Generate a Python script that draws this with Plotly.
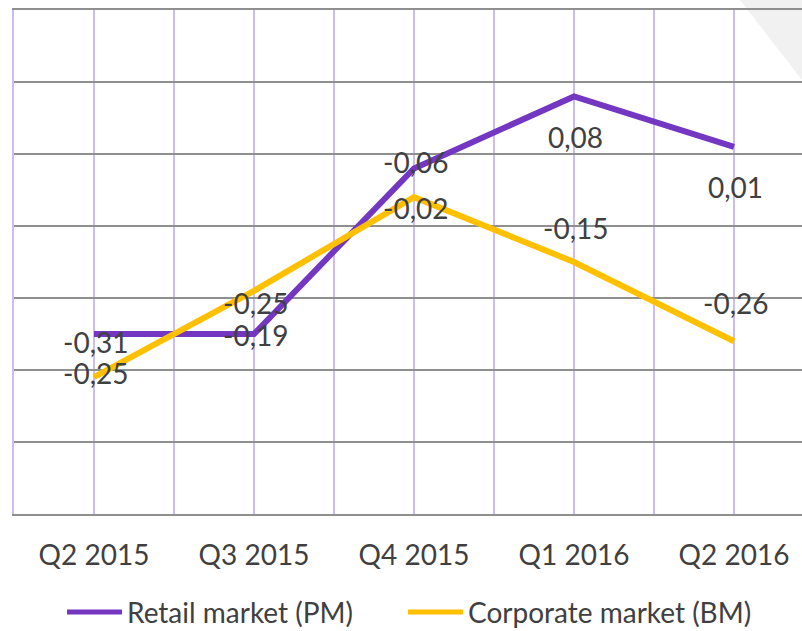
import plotly.graph_objects as go

categories = ["Q2 2015", "Q3 2015", "Q4 2015", "Q1 2016", "Q2 2016"]
retail_values = [-0.25, -0.25, -0.02, 0.08, 0.01]
corporate_values = [-0.31, -0.19, -0.06, -0.15, -0.26]
retail_labels = ["-0,25", "-0,25", "-0,02", "0,08", "0,01"]
corporate_labels = ["-0,31", "-0,19", "-0,06", "-0,15", "-0,26"]
series_names = ["Retail market (PM)", "Corporate market (BM)"]

# label offsets in pixels (style, not data)
retail_shift = [-39, 31, -40, -41, -40]
corporate_shift = [35, -44, 35, 34, 38]

PURPLE = "#7337C2"
GOLD = "#FFC000"
TXT = "#404040"
FONT = "Lato"

W, H = 802, 631
ML, MT, MB = 14, 10, 117
PW = W - ML
PH = H - MT - MB

xidx = list(range(len(categories)))

fig = go.Figure()
fig.add_trace(go.Scatter(x=xidx, y=retail_values, mode="lines", name=series_names[0],
                         line=dict(color=PURPLE, width=6), showlegend=False, hoverinfo="skip"))
fig.add_trace(go.Scatter(x=xidx, y=corporate_values, mode="lines", name=series_names[1],
                         line=dict(color=GOLD, width=6), showlegend=False, hoverinfo="skip"))

annotations = []
for i in xidx:
    annotations.append(dict(x=i + 0.01, y=retail_values[i], text=retail_labels[i], showarrow=False,
                            yshift=retail_shift[i], font=dict(family=FONT, size=28, color=TXT)))
    annotations.append(dict(x=i + 0.01, y=corporate_values[i], text=corporate_labels[i], showarrow=False,
                            yshift=corporate_shift[i], font=dict(family=FONT, size=28, color=TXT)))

def px_x(p):
    return (p - ML) / PW

def px_y(p):
    return (MT + PH - p) / PH

# custom legend
legend_y = px_y(612)
shapes = [
    dict(type="path", xref="paper", yref="paper",
         path=f"M {px_x(740)} {px_y(0)} L {px_x(802)} {px_y(0)} L {px_x(802)} {px_y(80)} Z",
         fillcolor="#f1f1f1", line=dict(width=0), layer="below"),
    dict(type="line", xref="paper", yref="paper", x0=px_x(67), x1=px_x(122), y0=legend_y, y1=legend_y,
         line=dict(color=PURPLE, width=5)),
    dict(type="line", xref="paper", yref="paper", x0=px_x(408), x1=px_x(463), y0=legend_y, y1=legend_y,
         line=dict(color=GOLD, width=5)),
]
annotations.append(dict(xref="paper", yref="paper", x=px_x(125), y=legend_y, text=series_names[0],
                        showarrow=False, xanchor="left", yanchor="middle",
                        font=dict(family=FONT, size=28, color=TXT)))
annotations.append(dict(xref="paper", yref="paper", x=px_x(466), y=legend_y, text=series_names[1],
                        showarrow=False, xanchor="left", yanchor="middle",
                        font=dict(family=FONT, size=28, color=TXT)))

tickvals = [v / 2 for v in range(-1, 2 * len(categories))]
ticktext = [categories[int(v)] if float(v).is_integer() and v >= 0 else "" for v in tickvals]

fig.update_layout(
    width=W, height=H,
    margin=dict(l=ML, r=0, t=MT, b=MB),
    paper_bgcolor="white", plot_bgcolor="rgba(0,0,0,0)",
    showlegend=False,
    annotations=annotations,
    shapes=shapes,
    xaxis=dict(range=[-0.5, -0.5 + PW / 160.0], tickvals=tickvals, ticktext=ticktext,
               showgrid=True, gridcolor="#cbbcf2", gridwidth=2,
               showline=True, linecolor="#8f8f8f", linewidth=2, mirror=True,
               ticks="", ticklabelstandoff=15, zeroline=False,
               tickfont=dict(family=FONT, size=28, color=TXT)),
    yaxis=dict(range=[-0.5, 0.2], dtick=0.1, showticklabels=False,
               showgrid=True, gridcolor="#8f8f8f", gridwidth=2, zeroline=False,
               showline=True, linecolor="#cbbcf2", linewidth=2, ticks=""),
)

fig.write_html("out.html", config={"displayModeBar": False},
               post_script="document.body.style.margin='0';document.body.style.overflow='hidden';")
